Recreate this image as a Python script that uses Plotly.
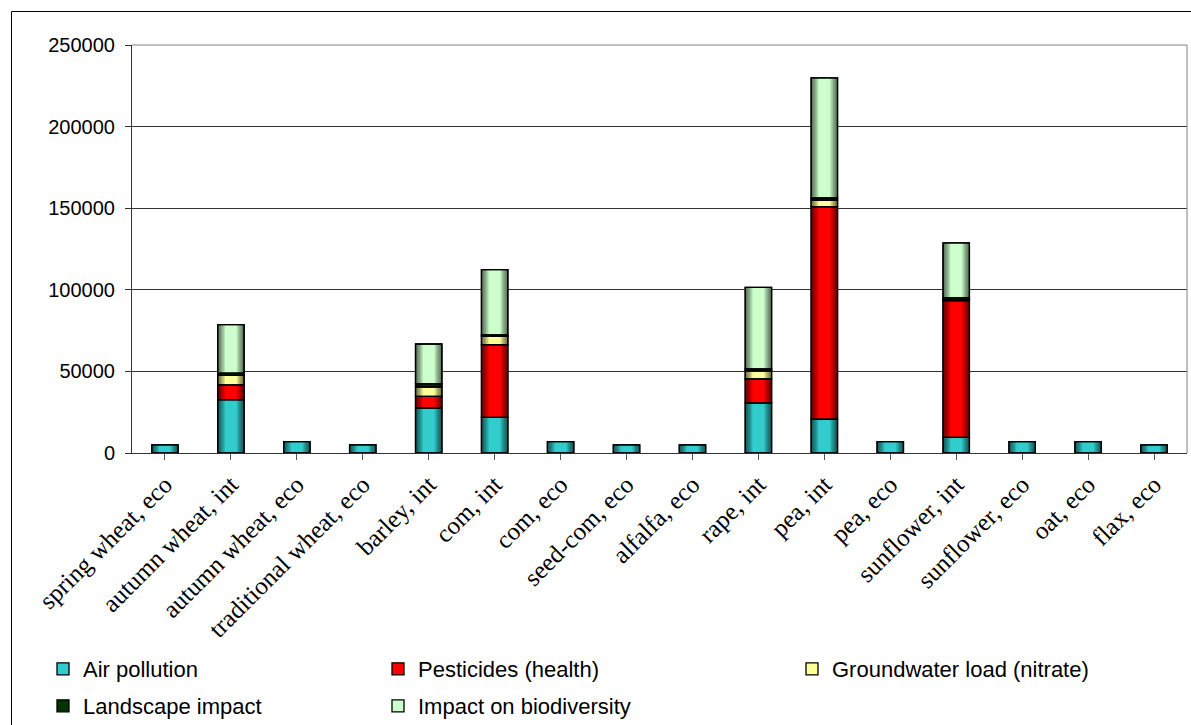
import plotly.graph_objects as go

# Crops and external cost components (stacked)
categories = [
    "spring wheat, eco", "autumn wheat, int", "autumn wheat, eco",
    "traditional wheat, eco", "barley, int", "com, int", "com, eco",
    "seed-com, eco", "alfalfa, eco", "rape, int", "pea, int", "pea, eco",
    "sunflower, int", "sunflower, eco", "oat, eco", "flax, eco",
]

air_pollution = [5000, 32700, 7000, 5000, 27600, 21800, 7000, 5000,
                 5000, 30700, 20800, 7000, 9600, 7000, 7000, 5000]
pesticides = [None, 9000, None, None, 7100, 44600, None, None,
              None, 14700, 130200, None, 83800, None, None, None]
groundwater = [None, 5900, None, None, 5800, 5100, None, None,
               None, 4900, 3900, None, 600, None, None, None]
landscape = [None, 1400, None, None, 2000, 800, None, None,
             None, 1200, 1400, None, 1200, None, None, None]
biodiversity = [None, 29700, None, None, 24300, 40100, None, None,
                None, 50000, 73600, None, 33600, None, None, None]

y_ticks = [0, 50000, 100000, 150000, 200000, 250000]

# name, values, fill colour, legend id
series = [
    ("Air pollution", air_pollution, "#33CCCC", "legend"),
    ("Pesticides (health)", pesticides, "#FF0000", "legend2"),
    ("Groundwater load (nitrate)", groundwater, "#FFFF99", "legend3"),
    ("Landscape impact", landscape, "#003300", "legend4"),
    ("Impact on biodiversity", biodiversity, "#CCFFCC", "legend5"),
]

BAR_W = 0.4
# nested translucent strips from each edge build a soft darkening
SHADE_WIDTHS = [0.03, 0.05, 0.07, 0.09, 0.11]
SHADE_ALPHA = 0.13

fig = go.Figure()
idx = list(range(len(categories)))
running = [0.0] * len(categories)

for name, values, color, leg in series:
    base = list(running)
    # main fill with outline (also provides the legend swatch)
    fig.add_trace(go.Bar(
        x=idx, y=values, base=base, name=name, legend=leg,
        width=BAR_W, offset=-BAR_W / 2,
        marker=dict(color=color, line=dict(color="black", width=1.3)),
        hoverinfo="x+y+name",
    ))
    for sw in SHADE_WIDTHS:
        shade = f"rgba(0,0,0,{SHADE_ALPHA})"
        for off in (-BAR_W / 2, BAR_W / 2 - sw):
            fig.add_trace(go.Bar(
                x=idx, y=values, base=base, width=sw, offset=off,
                marker=dict(color=shade, line=dict(width=0)),
                showlegend=False, hoverinfo="skip",
            ))
    # outline on top of the shading
    fig.add_trace(go.Bar(
        x=idx, y=values, base=base, width=BAR_W, offset=-BAR_W / 2,
        marker=dict(color="rgba(0,0,0,0)", line=dict(color="black", width=1.3)),
        showlegend=False, hoverinfo="skip",
    ))
    running = [r + (v or 0) for r, v in zip(running, values)]

# figure geometry helpers (pixels -> paper)
W, H = 1191, 725
ML, MR, MT, MB = 132, 4, 45, 272
PW, PH = W - ML - MR, H - MT - MB


def px_x(x):
    return (x - ML) / PW


def px_y(y):
    return (H - MB - y) / PH


legend_font = dict(family="Liberation Sans, Arial, sans-serif", size=22, color="black")


def legend_at(x, y):
    # placed in container coordinates so the legends never resize the plot
    return dict(xref="container", yref="container",
                x=x / W, y=1 - y / H, xanchor="left", yanchor="middle",
                font=legend_font, bgcolor="rgba(0,0,0,0)", borderwidth=0,
                orientation="v")


ROW1, ROW2 = 669, 706
COL1, COL2, COL3 = 43, 378, 792

fig.update_layout(
    width=W, height=H,
    margin=dict(l=ML, r=MR, t=MT, b=MB, pad=0, autoexpand=False),
    paper_bgcolor="white", plot_bgcolor="white",
    barmode="overlay",
    showlegend=True,
    legend=legend_at(COL1, ROW1),
    legend2=legend_at(COL2, ROW1),
    legend3=legend_at(COL3, ROW1),
    legend4=legend_at(COL1, ROW2),
    legend5=legend_at(COL2, ROW2),
    xaxis=dict(
        tickmode="array", tickvals=idx, ticktext=categories,
        range=[-0.5, len(categories) - 0.5],
        tickangle=-45, ticks="outside", tickson="boundaries",
        ticklen=6, tickcolor="#555555", tickwidth=1,
        showline=True, linecolor="#333333", linewidth=1,
        showgrid=False, zeroline=False,
        tickfont=dict(family="Liberation Serif, Times New Roman, serif", size=25, color="black"),
    ),
    yaxis=dict(
        range=[0, 250000], tickmode="array", tickvals=y_ticks,
        ticktext=[str(v) for v in y_ticks],
        ticks="outside", ticklen=6, tickcolor="#333333",
        showline=True, linecolor="#333333", linewidth=1,
        showgrid=True, gridcolor="#333333", gridwidth=1,
        zeroline=False, ticklabelstandoff=6,
        tickfont=dict(family="Liberation Sans, Arial, sans-serif", size=20, color="black"),
    ),
    shapes=[
        # plot-area border (top and right)
        dict(type="line", xref="paper", yref="paper", x0=0, x1=1, y0=1, y1=1,
             line=dict(color="#808080", width=1)),
        dict(type="line", xref="paper", yref="paper", x0=1, x1=1, y0=0, y1=1,
             line=dict(color="#808080", width=1)),
        # chart-area border
        dict(type="line", xref="paper", yref="paper", x0=px_x(11.5), x1=px_x(1300),
             y0=px_y(11.5), y1=px_y(11.5), line=dict(color="black", width=1)),
        dict(type="line", xref="paper", yref="paper", x0=px_x(11.5), x1=px_x(11.5),
             y0=px_y(11.5), y1=px_y(800), line=dict(color="black", width=1)),
    ],
)

fig.write_html("out.html")
